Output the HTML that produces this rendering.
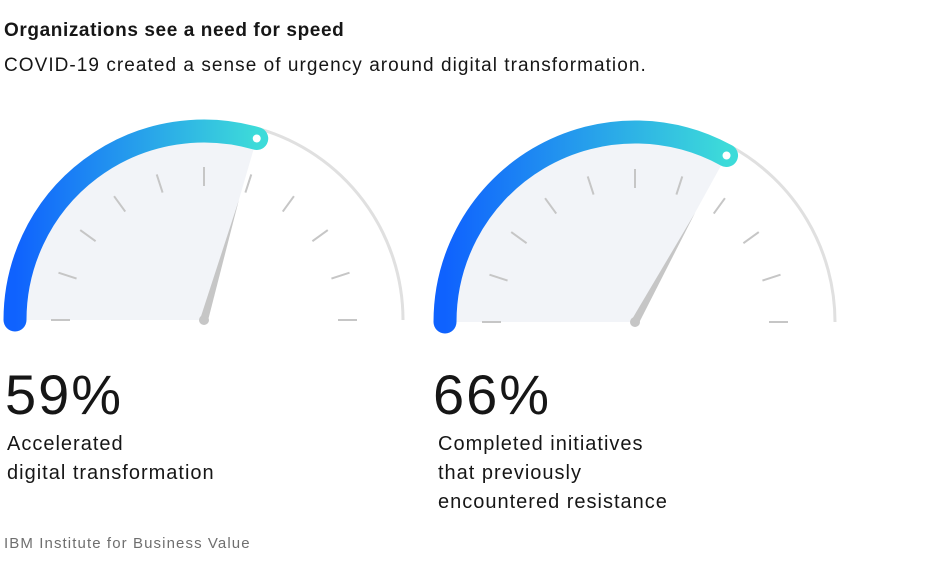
<!DOCTYPE html>
<html><head><meta charset="utf-8"><style>
body{margin:0;width:941px;height:575px;background:#fff;font-family:"Liberation Sans",sans-serif;color:#161616;overflow:hidden;position:relative}
.t{position:absolute;white-space:nowrap}
</style></head><body>
<div class="t" style="left:4px;top:20px;font-size:19px;font-weight:bold;letter-spacing:0.6px">Organizations see a need for speed</div>
<div class="t" style="left:4px;top:55px;font-size:19px;letter-spacing:1.05px">COVID-19 created a sense of urgency around digital transformation.</div>
<svg id="g" width="941" height="575" style="position:absolute;left:0;top:0">
<defs><linearGradient id="gr" x1="0" y1="0" x2="1" y2="0"><stop offset="0" stop-color="#0f62fe"/><stop offset="1" stop-color="#3ddbd9"/></linearGradient></defs>
</svg>
<div class="t" style="left:5px;top:362px;font-size:56px;font-weight:300;letter-spacing:2px">59%</div>
<div class="t" style="left:7px;top:430px;font-size:20px;line-height:29px;letter-spacing:1px">Accelerated<br>digital transformation</div>
<div class="t" style="left:433px;top:362px;font-size:56px;font-weight:300;letter-spacing:2px">66%</div>
<div class="t" style="left:438px;top:430px;font-size:20px;line-height:29px;letter-spacing:1px">Completed initiatives<br>that previously<br>encountered resistance</div>
<div class="t" style="left:4px;top:535px;font-size:15px;color:#6f6f6f;letter-spacing:1.1px">IBM Institute for Business Value</div>
<script>
const values=[59,66];
const centersX=[204,635];
const centersY=[320,322];
const radii=[189,190];
const svg=document.getElementById('g');
const NS='http://www.w3.org/2000/svg';
function mk(t,a){const e=document.createElementNS(NS,t);for(const k in a)e.setAttribute(k,a[k]);svg.appendChild(e);return e;}
function pt(cx,cy,r,pct){const a=Math.PI*(1-pct/100);return [cx+r*Math.cos(a),cy-r*Math.sin(a)];}
values.forEach((v,i)=>{
 const cx=centersX[i],cy=centersY[i];
 const R=radii[i],Rg=R+10,Rf=R-11;
 const [ex,ey]=pt(cx,cy,Rg,v),[gx,gy]=pt(cx,cy,Rg,100);
 let e=mk('path',{d:`M${ex} ${ey} A${Rg} ${Rg} 0 0 1 ${gx} ${gy}`,fill:'none',stroke:'#e0e0e0','stroke-width':3});
 
 
 const [fx,fy]=pt(cx,cy,Rf,v);
 e=mk('path',{d:`M${cx} ${cy} L${cx-Rf} ${cy} A${Rf} ${Rf} 0 0 1 ${fx} ${fy} Z`,fill:'#f2f4f8'});
 
 
 for(let k=0;k<=10;k++){
  const [x1,y1]=pt(cx,cy,134,k*10),[x2,y2]=pt(cx,cy,153,k*10);
  e=mk('line',{x1,y1,x2,y2,stroke:'#c6c6c6','stroke-width':2});
  
  
 }
 const [sx,sy]=pt(cx,cy,R,0),[bx,by]=pt(cx,cy,R,v);
 e=mk('path',{d:`M${sx} ${sy} A${R} ${R} 0 0 1 ${bx} ${by}`,fill:'none',stroke:'url(#gr)','stroke-width':23,'stroke-linecap':'round'});
 
 
 const a=Math.PI*(1-v/100);
 const [tx,ty]=pt(cx,cy,125,v);
 const px=Math.sin(a)*4,py=Math.cos(a)*4;
 e=mk('path',{d:`M${cx-px} ${cy-py} L${tx} ${ty} L${cx+px} ${cy+py} Z`,fill:'#c6c6c6'});
 
 
 e=mk('circle',{cx,cy,r:5,fill:'#c6c6c6'});
 
 
 e=mk('circle',{cx:bx,cy:by,r:5,fill:'#fff',stroke:'#3ddbd9','stroke-width':2});
 
 
});
</script>
</body></html>
